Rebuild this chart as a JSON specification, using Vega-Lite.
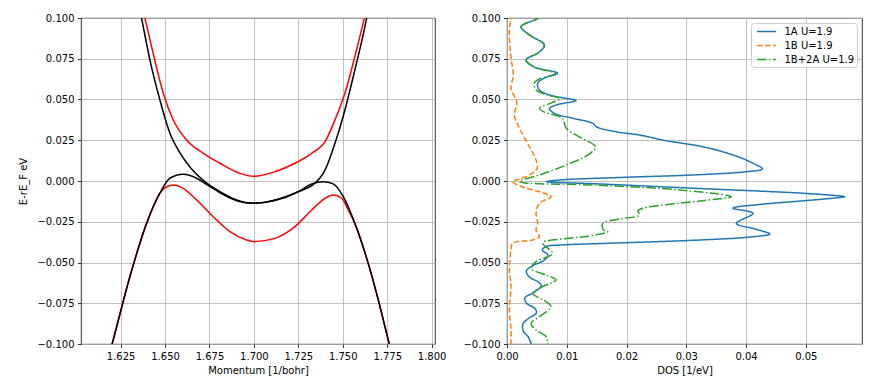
{
  "$schema": "https://vega.github.io/schema/vega-lite/v6.json",
  "autosize": {"type": "none"},
  "padding": {"left": 81, "top": 18, "right": 798, "bottom": 369},
  "background": "white",
  "datasets": {
    "black": [
      {"band": "B1", "k": 1.6342, "E": 0.1141},
      {"band": "B1", "k": 1.6368, "E": 0.0998},
      {"band": "B1", "k": 1.6415, "E": 0.0742},
      {"band": "B1", "k": 1.6471, "E": 0.0497},
      {"band": "B1", "k": 1.6527, "E": 0.0294},
      {"band": "B1", "k": 1.6584, "E": 0.0172},
      {"band": "B1", "k": 1.6640, "E": 0.0086},
      {"band": "B1", "k": 1.6724, "E": -0.0004},
      {"band": "B1", "k": 1.6809, "E": -0.0066},
      {"band": "B1", "k": 1.6903, "E": -0.0117},
      {"band": "B1", "k": 1.7000, "E": -0.0137},
      {"band": "B1", "k": 1.7118, "E": -0.0117},
      {"band": "B1", "k": 1.7249, "E": -0.0066},
      {"band": "B1", "k": 1.7343, "E": -0.0014},
      {"band": "B1", "k": 1.7370, "E": 0.0017},
      {"band": "B1", "k": 1.7400, "E": 0.0067},
      {"band": "B1", "k": 1.7456, "E": 0.0231},
      {"band": "B1", "k": 1.7512, "E": 0.0436},
      {"band": "B1", "k": 1.7568, "E": 0.0681},
      {"band": "B1", "k": 1.7634, "E": 0.0998},
      {"band": "B1", "k": 1.7658, "E": 0.1141},
      {"band": "B2", "k": 1.6173, "E": -0.1117},
      {"band": "B2", "k": 1.6203, "E": -0.0996},
      {"band": "B2", "k": 1.6302, "E": -0.0587},
      {"band": "B2", "k": 1.6396, "E": -0.0260},
      {"band": "B2", "k": 1.6471, "E": -0.0075},
      {"band": "B2", "k": 1.6527, "E": 0.0017},
      {"band": "B2", "k": 1.6602, "E": 0.0041},
      {"band": "B2", "k": 1.6678, "E": 0.0017},
      {"band": "B2", "k": 1.6724, "E": -0.0014},
      {"band": "B2", "k": 1.6809, "E": -0.0072},
      {"band": "B2", "k": 1.6903, "E": -0.0121},
      {"band": "B2", "k": 1.7000, "E": -0.0137},
      {"band": "B2", "k": 1.7118, "E": -0.0120},
      {"band": "B2", "k": 1.7249, "E": -0.0066},
      {"band": "B2", "k": 1.7325, "E": -0.0018},
      {"band": "B2", "k": 1.7390, "E": -0.0004},
      {"band": "B2", "k": 1.7446, "E": -0.0018},
      {"band": "B2", "k": 1.7503, "E": -0.0096},
      {"band": "B2", "k": 1.7568, "E": -0.0260},
      {"band": "B2", "k": 1.7643, "E": -0.0505},
      {"band": "B2", "k": 1.7700, "E": -0.0730},
      {"band": "B2", "k": 1.7761, "E": -0.0996},
      {"band": "B2", "k": 1.7791, "E": -0.1117}
    ],
    "red": [
      {"band": "R1", "k": 1.6356, "E": 0.1141},
      {"band": "R1", "k": 1.6387, "E": 0.0998},
      {"band": "R1", "k": 1.6433, "E": 0.0783},
      {"band": "R1", "k": 1.6490, "E": 0.0538},
      {"band": "R1", "k": 1.6546, "E": 0.0374},
      {"band": "R1", "k": 1.6621, "E": 0.0252},
      {"band": "R1", "k": 1.6715, "E": 0.0170},
      {"band": "R1", "k": 1.6809, "E": 0.0109},
      {"band": "R1", "k": 1.6921, "E": 0.0047},
      {"band": "R1", "k": 1.7000, "E": 0.0029},
      {"band": "R1", "k": 1.7118, "E": 0.0057},
      {"band": "R1", "k": 1.7231, "E": 0.0109},
      {"band": "R1", "k": 1.7325, "E": 0.0170},
      {"band": "R1", "k": 1.7400, "E": 0.0241},
      {"band": "R1", "k": 1.7456, "E": 0.0374},
      {"band": "R1", "k": 1.7512, "E": 0.0538},
      {"band": "R1", "k": 1.7568, "E": 0.0763},
      {"band": "R1", "k": 1.7621, "E": 0.0998},
      {"band": "R1", "k": 1.7652, "E": 0.1141},
      {"band": "R2", "k": 1.6173, "E": -0.1117},
      {"band": "R2", "k": 1.6203, "E": -0.0996},
      {"band": "R2", "k": 1.6302, "E": -0.0587},
      {"band": "R2", "k": 1.6396, "E": -0.0260},
      {"band": "R2", "k": 1.6471, "E": -0.0075},
      {"band": "R2", "k": 1.6509, "E": -0.0035},
      {"band": "R2", "k": 1.6546, "E": -0.0025},
      {"band": "R2", "k": 1.6602, "E": -0.0045},
      {"band": "R2", "k": 1.6678, "E": -0.0117},
      {"band": "R2", "k": 1.6771, "E": -0.0219},
      {"band": "R2", "k": 1.6865, "E": -0.0311},
      {"band": "R2", "k": 1.6959, "E": -0.0362},
      {"band": "R2", "k": 1.7000, "E": -0.0372},
      {"band": "R2", "k": 1.7118, "E": -0.0352},
      {"band": "R2", "k": 1.7231, "E": -0.0280},
      {"band": "R2", "k": 1.7325, "E": -0.0178},
      {"band": "R2", "k": 1.7400, "E": -0.0106},
      {"band": "R2", "k": 1.7446, "E": -0.0086},
      {"band": "R2", "k": 1.7494, "E": -0.0106},
      {"band": "R2", "k": 1.7531, "E": -0.0178},
      {"band": "R2", "k": 1.7568, "E": -0.0260},
      {"band": "R2", "k": 1.7643, "E": -0.0505},
      {"band": "R2", "k": 1.7700, "E": -0.0730},
      {"band": "R2", "k": 1.7761, "E": -0.0996},
      {"band": "R2", "k": 1.7791, "E": -0.1117}
    ],
    "dos": [
      {"series": "1A U=1.9", "dos": 0.00558, "E": 0.1025},
      {"series": "1A U=1.9", "dos": 0.00513, "E": 0.0998},
      {"series": "1A U=1.9", "dos": 0.00235, "E": 0.0947},
      {"series": "1A U=1.9", "dos": 0.00374, "E": 0.0896},
      {"series": "1A U=1.9", "dos": 0.00625, "E": 0.0834},
      {"series": "1A U=1.9", "dos": 0.00541, "E": 0.0791},
      {"series": "1A U=1.9", "dos": 0.00318, "E": 0.0742},
      {"series": "1A U=1.9", "dos": 0.00458, "E": 0.0699},
      {"series": "1A U=1.9", "dos": 0.00848, "E": 0.0661},
      {"series": "1A U=1.9", "dos": 0.00625, "E": 0.0632},
      {"series": "1A U=1.9", "dos": 0.00513, "E": 0.0599},
      {"series": "1A U=1.9", "dos": 0.00541, "E": 0.0558},
      {"series": "1A U=1.9", "dos": 0.00709, "E": 0.0528},
      {"series": "1A U=1.9", "dos": 0.00989, "E": 0.0507},
      {"series": "1A U=1.9", "dos": 0.01156, "E": 0.0494},
      {"series": "1A U=1.9", "dos": 0.00821, "E": 0.0466},
      {"series": "1A U=1.9", "dos": 0.00709, "E": 0.0445},
      {"series": "1A U=1.9", "dos": 0.00793, "E": 0.0415},
      {"series": "1A U=1.9", "dos": 0.01099, "E": 0.0385},
      {"series": "1A U=1.9", "dos": 0.01435, "E": 0.0354},
      {"series": "1A U=1.9", "dos": 0.01492, "E": 0.0333},
      {"series": "1A U=1.9", "dos": 0.01827, "E": 0.0302},
      {"series": "1A U=1.9", "dos": 0.02217, "E": 0.0282},
      {"series": "1A U=1.9", "dos": 0.02665, "E": 0.0247},
      {"series": "1A U=1.9", "dos": 0.02943, "E": 0.0231},
      {"series": "1A U=1.9", "dos": 0.03278, "E": 0.0210},
      {"series": "1A U=1.9", "dos": 0.03781, "E": 0.0160},
      {"series": "1A U=1.9", "dos": 0.04116, "E": 0.0109},
      {"series": "1A U=1.9", "dos": 0.04274, "E": 0.0074},
      {"series": "1A U=1.9", "dos": 0.04006, "E": 0.0057},
      {"series": "1A U=1.9", "dos": 0.03111, "E": 0.0037},
      {"series": "1A U=1.9", "dos": 0.01994, "E": 0.0023},
      {"series": "1A U=1.9", "dos": 0.00877, "E": 0.0006},
      {"series": "1A U=1.9", "dos": 0.00659, "E": -0.0004},
      {"series": "1A U=1.9", "dos": 0.01547, "E": -0.0018},
      {"series": "1A U=1.9", "dos": 0.03223, "E": -0.0046},
      {"series": "1A U=1.9", "dos": 0.04899, "E": -0.0074},
      {"series": "1A U=1.9", "dos": 0.05486, "E": -0.0089},
      {"series": "1A U=1.9", "dos": 0.05653, "E": -0.0096},
      {"series": "1A U=1.9", "dos": 0.05234, "E": -0.0113},
      {"series": "1A U=1.9", "dos": 0.04229, "E": -0.0144},
      {"series": "1A U=1.9", "dos": 0.03781, "E": -0.0167},
      {"series": "1A U=1.9", "dos": 0.04116, "E": -0.0198},
      {"series": "1A U=1.9", "dos": 0.03838, "E": -0.0260},
      {"series": "1A U=1.9", "dos": 0.04145, "E": -0.0294},
      {"series": "1A U=1.9", "dos": 0.04396, "E": -0.0325},
      {"series": "1A U=1.9", "dos": 0.04061, "E": -0.0344},
      {"series": "1A U=1.9", "dos": 0.03223, "E": -0.0362},
      {"series": "1A U=1.9", "dos": 0.01715, "E": -0.0382},
      {"series": "1A U=1.9", "dos": 0.00877, "E": -0.0393},
      {"series": "1A U=1.9", "dos": 0.00654, "E": -0.0402},
      {"series": "1A U=1.9", "dos": 0.00592, "E": -0.0423},
      {"series": "1A U=1.9", "dos": 0.00684, "E": -0.0454},
      {"series": "1A U=1.9", "dos": 0.00625, "E": -0.0485},
      {"series": "1A U=1.9", "dos": 0.00424, "E": -0.0521},
      {"series": "1A U=1.9", "dos": 0.00323, "E": -0.0552},
      {"series": "1A U=1.9", "dos": 0.00374, "E": -0.0589},
      {"series": "1A U=1.9", "dos": 0.00541, "E": -0.0623},
      {"series": "1A U=1.9", "dos": 0.00575, "E": -0.0644},
      {"series": "1A U=1.9", "dos": 0.00458, "E": -0.0681},
      {"series": "1A U=1.9", "dos": 0.00298, "E": -0.0718},
      {"series": "1A U=1.9", "dos": 0.00323, "E": -0.0748},
      {"series": "1A U=1.9", "dos": 0.00474, "E": -0.0785},
      {"series": "1A U=1.9", "dos": 0.00491, "E": -0.0810},
      {"series": "1A U=1.9", "dos": 0.00374, "E": -0.0840},
      {"series": "1A U=1.9", "dos": 0.00265, "E": -0.0877},
      {"series": "1A U=1.9", "dos": 0.00273, "E": -0.0920},
      {"series": "1A U=1.9", "dos": 0.00357, "E": -0.0957},
      {"series": "1A U=1.9", "dos": 0.00402, "E": -0.0996},
      {"series": "1A U=1.9", "dos": 0.00424, "E": -0.1018},
      {"series": "1B U=1.9", "dos": 0.00067, "E": 0.1025},
      {"series": "1B U=1.9", "dos": 0.00067, "E": 0.0998},
      {"series": "1B U=1.9", "dos": 0.00039, "E": 0.0926},
      {"series": "1B U=1.9", "dos": 0.00047, "E": 0.0834},
      {"series": "1B U=1.9", "dos": 0.00072, "E": 0.0742},
      {"series": "1B U=1.9", "dos": 0.00106, "E": 0.0650},
      {"series": "1B U=1.9", "dos": 0.00067, "E": 0.0571},
      {"series": "1B U=1.9", "dos": 0.00164, "E": 0.0479},
      {"series": "1B U=1.9", "dos": 0.00122, "E": 0.0405},
      {"series": "1B U=1.9", "dos": 0.00223, "E": 0.0313},
      {"series": "1B U=1.9", "dos": 0.00374, "E": 0.0210},
      {"series": "1B U=1.9", "dos": 0.00474, "E": 0.0141},
      {"series": "1B U=1.9", "dos": 0.00508, "E": 0.0080},
      {"series": "1B U=1.9", "dos": 0.00407, "E": 0.0043},
      {"series": "1B U=1.9", "dos": 0.00206, "E": 0.0012},
      {"series": "1B U=1.9", "dos": 0.00094, "E": -0.0004},
      {"series": "1B U=1.9", "dos": 0.00240, "E": -0.0034},
      {"series": "1B U=1.9", "dos": 0.00541, "E": -0.0066},
      {"series": "1B U=1.9", "dos": 0.00737, "E": -0.0096},
      {"series": "1B U=1.9", "dos": 0.00541, "E": -0.0137},
      {"series": "1B U=1.9", "dos": 0.00486, "E": -0.0198},
      {"series": "1B U=1.9", "dos": 0.00513, "E": -0.0260},
      {"series": "1B U=1.9", "dos": 0.00486, "E": -0.0301},
      {"series": "1B U=1.9", "dos": 0.00541, "E": -0.0342},
      {"series": "1B U=1.9", "dos": 0.00429, "E": -0.0362},
      {"series": "1B U=1.9", "dos": 0.00094, "E": -0.0382},
      {"series": "1B U=1.9", "dos": 0.00067, "E": -0.0423},
      {"series": "1B U=1.9", "dos": 0.00039, "E": -0.0546},
      {"series": "1B U=1.9", "dos": 0.00067, "E": -0.0648},
      {"series": "1B U=1.9", "dos": 0.00039, "E": -0.0791},
      {"series": "1B U=1.9", "dos": 0.00067, "E": -0.0914},
      {"series": "1B U=1.9", "dos": 0.00067, "E": -0.0996},
      {"series": "1B U=1.9", "dos": 0.00067, "E": -0.1018},
      {"series": "1B+2A U=1.9", "dos": 0.00558, "E": 0.1025},
      {"series": "1B+2A U=1.9", "dos": 0.00513, "E": 0.0998},
      {"series": "1B+2A U=1.9", "dos": 0.00235, "E": 0.0947},
      {"series": "1B+2A U=1.9", "dos": 0.00374, "E": 0.0896},
      {"series": "1B+2A U=1.9", "dos": 0.00625, "E": 0.0834},
      {"series": "1B+2A U=1.9", "dos": 0.00541, "E": 0.0791},
      {"series": "1B+2A U=1.9", "dos": 0.00318, "E": 0.0742},
      {"series": "1B+2A U=1.9", "dos": 0.00458, "E": 0.0699},
      {"series": "1B+2A U=1.9", "dos": 0.00810, "E": 0.0660},
      {"series": "1B+2A U=1.9", "dos": 0.00541, "E": 0.0626},
      {"series": "1B+2A U=1.9", "dos": 0.00458, "E": 0.0601},
      {"series": "1B+2A U=1.9", "dos": 0.00486, "E": 0.0558},
      {"series": "1B+2A U=1.9", "dos": 0.00675, "E": 0.0528},
      {"series": "1B+2A U=1.9", "dos": 0.00893, "E": 0.0506},
      {"series": "1B+2A U=1.9", "dos": 0.00742, "E": 0.0479},
      {"series": "1B+2A U=1.9", "dos": 0.00541, "E": 0.0446},
      {"series": "1B+2A U=1.9", "dos": 0.00625, "E": 0.0423},
      {"series": "1B+2A U=1.9", "dos": 0.00927, "E": 0.0385},
      {"series": "1B+2A U=1.9", "dos": 0.00989, "E": 0.0325},
      {"series": "1B+2A U=1.9", "dos": 0.01212, "E": 0.0270},
      {"series": "1B+2A U=1.9", "dos": 0.01480, "E": 0.0210},
      {"series": "1B+2A U=1.9", "dos": 0.01379, "E": 0.0166},
      {"series": "1B+2A U=1.9", "dos": 0.00989, "E": 0.0098},
      {"series": "1B+2A U=1.9", "dos": 0.00541, "E": 0.0037},
      {"series": "1B+2A U=1.9", "dos": 0.00206, "E": -0.0003},
      {"series": "1B+2A U=1.9", "dos": 0.01547, "E": -0.0026},
      {"series": "1B+2A U=1.9", "dos": 0.02888, "E": -0.0055},
      {"series": "1B+2A U=1.9", "dos": 0.03754, "E": -0.0096},
      {"series": "1B+2A U=1.9", "dos": 0.03223, "E": -0.0123},
      {"series": "1B+2A U=1.9", "dos": 0.02273, "E": -0.0167},
      {"series": "1B+2A U=1.9", "dos": 0.02189, "E": -0.0184},
      {"series": "1B+2A U=1.9", "dos": 0.02217, "E": -0.0209},
      {"series": "1B+2A U=1.9", "dos": 0.01882, "E": -0.0233},
      {"series": "1B+2A U=1.9", "dos": 0.01602, "E": -0.0260},
      {"series": "1B+2A U=1.9", "dos": 0.01614, "E": -0.0301},
      {"series": "1B+2A U=1.9", "dos": 0.01686, "E": -0.0311},
      {"series": "1B+2A U=1.9", "dos": 0.01324, "E": -0.0340},
      {"series": "1B+2A U=1.9", "dos": 0.00989, "E": -0.0353},
      {"series": "1B+2A U=1.9", "dos": 0.00597, "E": -0.0380},
      {"series": "1B+2A U=1.9", "dos": 0.00764, "E": -0.0444},
      {"series": "1B+2A U=1.9", "dos": 0.00486, "E": -0.0495},
      {"series": "1B+2A U=1.9", "dos": 0.00402, "E": -0.0536},
      {"series": "1B+2A U=1.9", "dos": 0.00654, "E": -0.0577},
      {"series": "1B+2A U=1.9", "dos": 0.00821, "E": -0.0607},
      {"series": "1B+2A U=1.9", "dos": 0.00597, "E": -0.0648},
      {"series": "1B+2A U=1.9", "dos": 0.00429, "E": -0.0689},
      {"series": "1B+2A U=1.9", "dos": 0.00654, "E": -0.0740},
      {"series": "1B+2A U=1.9", "dos": 0.00737, "E": -0.0771},
      {"series": "1B+2A U=1.9", "dos": 0.00541, "E": -0.0833},
      {"series": "1B+2A U=1.9", "dos": 0.00402, "E": -0.0873},
      {"series": "1B+2A U=1.9", "dos": 0.00486, "E": -0.0914},
      {"series": "1B+2A U=1.9", "dos": 0.00654, "E": -0.0955},
      {"series": "1B+2A U=1.9", "dos": 0.00680, "E": -0.0996},
      {"series": "1B+2A U=1.9", "dos": 0.00680, "E": -0.1018}
    ]
  },
  "spacing": 72,
  "bounds": "flush",
  "hconcat": [
    {
      "width": 354,
      "height": 326,
      "layer": [
        {
          "data": {"name": "red"},
          "mark": {"type": "line", "color": "#ff0000", "strokeWidth": 1.5, "clip": true, "interpolate": "monotone"},
          "encoding": {
            "x": {"field": "k", "type": "quantitative", "scale": {"domain": [1.6027, 1.8019], "nice": false, "zero": false}, "axis": {"title": "Momentum [1/bohr]", "values": [1.625, 1.65, 1.675, 1.7, 1.725, 1.75, 1.775, 1.8], "format": ".3f"}},
            "y": {"field": "E", "type": "quantitative", "scale": {"domain": [-0.1, 0.1], "nice": false, "zero": false}, "axis": {"title": "E-rE_F eV", "titlePadding": 8, "values": [-0.1, -0.075, -0.05, -0.025, 0, 0.025, 0.05, 0.075, 0.1], "format": ".3f"}},
            "detail": {"field": "band", "type": "nominal"}
          }
        },
        {
          "data": {"name": "black"},
          "mark": {"type": "line", "color": "#000000", "strokeWidth": 1.5, "clip": true, "interpolate": "monotone"},
          "encoding": {
            "x": {"field": "k", "type": "quantitative"},
            "y": {"field": "E", "type": "quantitative"},
            "detail": {"field": "band", "type": "nominal"}
          }
        }
      ]
    },
    {
      "width": 355,
      "height": 326,
      "data": {"name": "dos"},
      "mark": {"type": "line", "strokeWidth": 1.5, "clip": true, "interpolate": "catmull-rom"},
      "encoding": {
        "x": {"field": "dos", "type": "quantitative", "scale": {"domain": [0, 0.0594], "nice": false}, "axis": {"title": "DOS [1/eV]", "values": [0, 0.01, 0.02, 0.03, 0.04, 0.05], "format": ".2f"}},
        "y": {"field": "E", "type": "quantitative", "scale": {"domain": [-0.1, 0.1], "nice": false, "zero": false}, "axis": {"title": null, "values": [-0.1, -0.075, -0.05, -0.025, 0, 0.025, 0.05, 0.075, 0.1], "format": ".3f"}},
        "color": {"field": "series", "type": "nominal", "scale": {"domain": ["1A U=1.9", "1B U=1.9", "1B+2A U=1.9"], "range": ["#1f77b4", "#ff7f0e", "#2ca02c"]}, "legend": {"title": null, "orient": "none", "legendX": 670, "legendY": 5}},
        "strokeDash": {"field": "series", "type": "nominal", "scale": {"domain": ["1A U=1.9", "1B U=1.9", "1B+2A U=1.9"], "range": [[1, 0], [5.55, 2.4], [9.6, 2.4, 1.5, 2.4]]}, "legend": {"title": null, "orient": "none", "legendX": 670, "legendY": 5}},
        "order": {"field": "E", "type": "quantitative", "sort": "descending"}
      }
    }
  ],
  "config": {
    "font": "DejaVu Sans",
    "view": {"stroke": "#000000", "strokeWidth": 0.8},
    "axis": {
      "grid": true, "gridColor": "#b0b0b0", "gridWidth": 0.8, "domain": false,
      "ticks": true, "tickColor": "#000000", "tickWidth": 0.8, "tickSize": 3.5,
      "labelPadding": 3.5, "labelFontSize": 10, "labelColor": "#000000", "labelFont": "DejaVu Sans",
      "labelFlush": false, "labelOverlap": false,
      "titleFontSize": 10, "titleFont": "DejaVu Sans", "titleFontWeight": "normal", "titleColor": "#000000", "titlePadding": 4
    },
    "legend": {
      "strokeColor": "#cccccc", "fillColor": "rgba(255,255,255,0.8)", "cornerRadius": 3,
      "padding": 2.5, "symbolType": "M-0.5,0H3.3", "symbolSize": 100, "symbolStrokeWidth": 1.5,
      "labelFontSize": 10, "labelFont": "DejaVu Sans", "labelColor": "#000000",
      "rowPadding": 3, "labelOffset": 19
    }
  }
}
